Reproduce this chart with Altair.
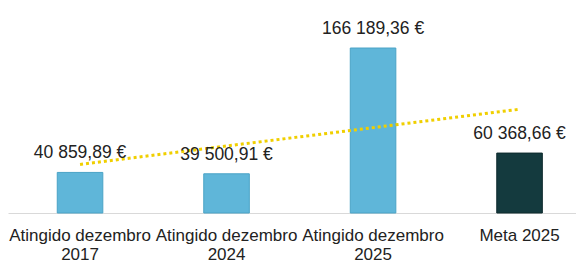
import altair as alt
import pandas as pd
import numpy as np

categorias = ["Atingido dezembro|2017", "Atingido dezembro|2024", "Atingido dezembro|2025", "Meta 2025"]
valores = [40859.89, 39500.91, 166189.36, 60368.66]
rotulos = ["40 859,89 €", "39 500,91 €", "166 189,36 €", "60 368,66 €"]
tipos = ["Atingido", "Atingido", "Atingido", "Meta"]

idx = np.arange(1, len(valores) + 1)
coef = np.polyfit(idx, valores, 1)
tendencia = list(np.polyval(coef, idx))

df = pd.DataFrame({
    "cat": categorias,
    "valor": valores,
    "rotulo": rotulos,
    "tipo": tipos,
    "tend": tendencia,
})

FONT = "Liberation Sans"

x = alt.X("cat:N", sort=categorias, title=None,
          scale=alt.Scale(paddingInner=0.689, paddingOuter=0.283, align=0.594),
          axis=alt.Axis(labelExpr="split(datum.label, '|')", labelAngle=0,
                        labelFont=FONT, labelFontSize=17, labelColor="#222222",
                        labelLineHeight=19, labelPadding=14, labelOverlap=False,
                        labelLimit=300, ticks=False, domainColor="#d9d9d9",
                        domainWidth=1))
yscale = alt.Scale(domain=[0, 206500], nice=False, zero=True)

bars = alt.Chart(df).mark_bar(strokeWidth=1).encode(
    x=x,
    y=alt.Y("valor:Q", scale=yscale, axis=None),
    color=alt.Color("tipo:N", scale=alt.Scale(domain=["Atingido", "Meta"],
                                               range=["#5fb6d9", "#143a3e"]), legend=None),
    stroke=alt.Stroke("tipo:N", scale=alt.Scale(domain=["Atingido", "Meta"],
                                                 range=["#4aa3c6", "#0e2a2d"]), legend=None),
)

text = alt.Chart(df).mark_text(dy=-14, baseline="alphabetic", font=FONT,
                               fontSize=17.5, color="#222222").encode(
    x=alt.X("cat:N", sort=categorias),
    y=alt.Y("valor:Q", scale=yscale),
    text="rotulo:N",
)

trend = alt.Chart(df).mark_line(color="#f0cf00", strokeWidth=3,
                                strokeDash=[3, 3]).encode(
    x=alt.X("cat:N", sort=categorias),
    y=alt.Y("tend:Q", scale=yscale),
)

chart = alt.layer(bars, trend, text).properties(
    width=568, height=205, padding=0,
).configure_view(stroke=None)

chart.save("out.html", embed_options={"renderer": "svg", "actions": False})
